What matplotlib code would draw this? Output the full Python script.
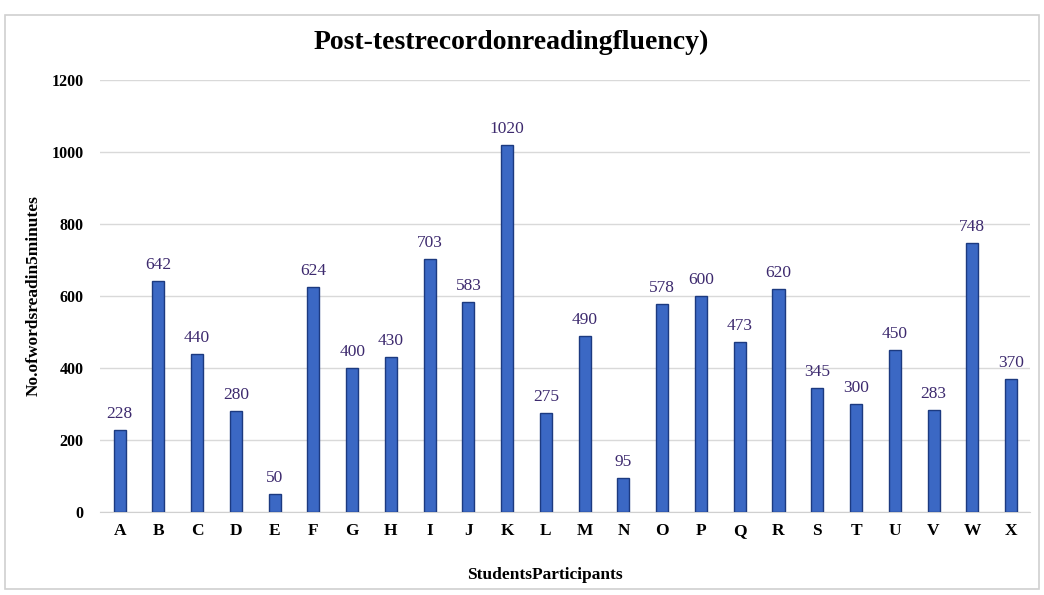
"""Post-test reading fluency bar chart."""

import matplotlib

matplotlib.use("Agg")
import matplotlib.pyplot as plt
from matplotlib.patches import Rectangle

students = list("ABCDEFGHIJKLMNOPQRSTUVWX")
words_read = [228, 642, 440, 280, 50, 624, 400, 430, 703, 583, 1020, 275,
              490, 95, 578, 600, 473, 620, 345, 300, 450, 283, 748, 370]
y_ticks = [0, 200, 400, 600, 800, 1000, 1200]

plt.rcParams["font.family"] = ["Liberation Serif", "DejaVu Serif"]

fig = plt.figure(figsize=(10.44, 5.95), dpi=100)
ax = fig.add_axes([0.096, 0.139, 0.891, 0.727])

x = range(len(students))
ax.bar(x, words_read, width=0.31, color="#3b68c4", edgecolor="#1c3a80",
       linewidth=1.0, zorder=3)

for xi, val in zip(x, words_read):
    ax.text(xi, val + 22, str(val), ha="center", va="bottom",
            fontsize=12.5, color="#3d2a6e")

ax.set_xlim(-0.5, len(students) - 0.5)
ax.set_ylim(0, 1200)
ax.set_yticks(y_ticks)
ax.set_xticks(list(x))
ax.set_xticklabels(students, fontweight="bold", fontsize=12.5)
ax.set_yticklabels([str(t) for t in y_ticks], fontweight="bold", fontsize=11.5)
ax.tick_params(axis="x", length=0, pad=8)
ax.tick_params(axis="y", length=0, pad=12)
ax.grid(axis="y", color="#d9d9d9", linewidth=1.0, zorder=0)
for side in ["top", "right", "left"]:
    ax.spines[side].set_visible(False)
ax.spines["bottom"].set_color("#d0d0d0")

fig.suptitle("Post-testrecordonreadingfluency)", fontsize=20, fontweight="bold",
             x=0.49, y=0.929, va="center")
ax.set_ylabel("No.ofwordsreadin5minutes", fontsize=12.5, fontweight="bold")
ax.yaxis.set_label_coords(-0.072, 0.5, transform=ax.transAxes)
ax.set_xlabel("StudentsParticipants", fontsize=12.5, fontweight="bold")
ax.xaxis.set_label_coords(0.478, -0.146, transform=ax.transAxes)
ax.xaxis.label.set_va("center")
ax.yaxis.label.set_va("center")

fig.patches.append(Rectangle((0.005, 0.01), 0.99, 0.965, transform=fig.transFigure,
                             fill=False, edgecolor="#d0d0d0", linewidth=1.2))

fig.savefig("out.png", dpi=100)
